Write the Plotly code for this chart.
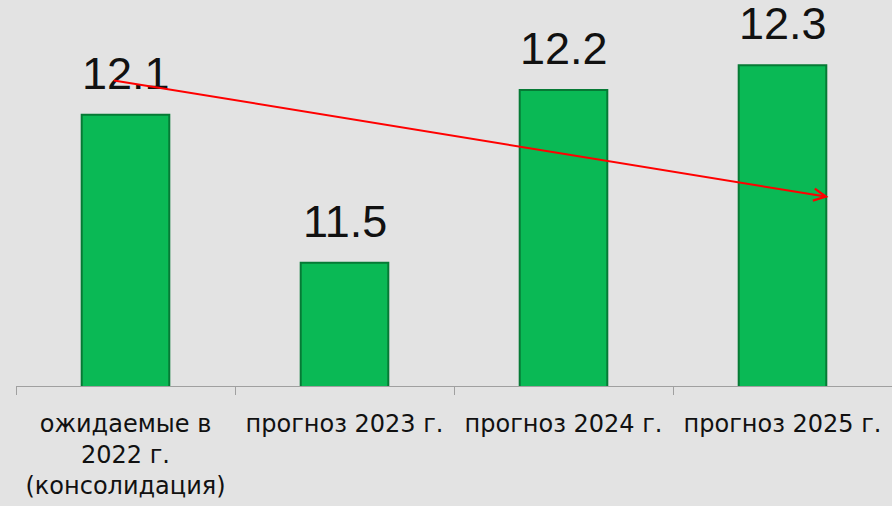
import plotly.graph_objects as go

categories = ["ожидаемые в<br>2022 г.<br>(консолидация)", "прогноз 2023 г.", "прогноз 2024 г.", "прогноз 2025 г."]
values = [12.1, 11.5, 12.2, 12.3]
value_labels = ["12.1", "11.5", "12.2", "12.3"]
trend_start = (-0.06, 12.24)
trend_end = (3.21, 11.766)

fig = go.Figure()
fig.add_trace(go.Bar(
    x=categories, y=values,
    width=0.4,
    marker=dict(color="#0ab955", line=dict(color="#067a35", width=2)),
    cliponaxis=False, hoverinfo="skip",
))
for c, v, t in zip(categories, values, value_labels):
    fig.add_annotation(x=c, y=v, text=t, showarrow=False, yanchor="bottom", yshift=14,
                       font=dict(family="Liberation Sans", size=45, color="#111111"))

fig.add_annotation(
    x=trend_end[0], y=trend_end[1], ax=trend_start[0], ay=trend_start[1],
    xref="x", yref="y", axref="x", ayref="y",
    text="", showarrow=True, arrowhead=5, arrowsize=1.2, arrowwidth=2,
    arrowcolor="#ff0000",
)

fig.update_layout(
    width=892, height=506,
    margin=dict(l=16, r=0, t=0, b=120),
    paper_bgcolor="#e3e3e3", plot_bgcolor="rgba(0,0,0,0)",
    showlegend=False,
    xaxis=dict(
        type="category", range=[-0.5, 3.5], tickson="boundaries",
        showline=True, linecolor="#a0a0a0", linewidth=1,
        ticks="outside", ticklen=8, tickcolor="#a0a0a0",
        showgrid=False, zeroline=False,
        tickfont=dict(family="DejaVu Sans", size=24, color="#111111"),
        ticklabelstandoff=16,
    ),
    yaxis=dict(range=[11.0, 12.565], visible=False, showgrid=False, zeroline=False),
)

fig.write_html("out.html", config={"displayModeBar": False},
               post_script="document.body.style.margin='0';document.body.style.overflow='hidden';")
